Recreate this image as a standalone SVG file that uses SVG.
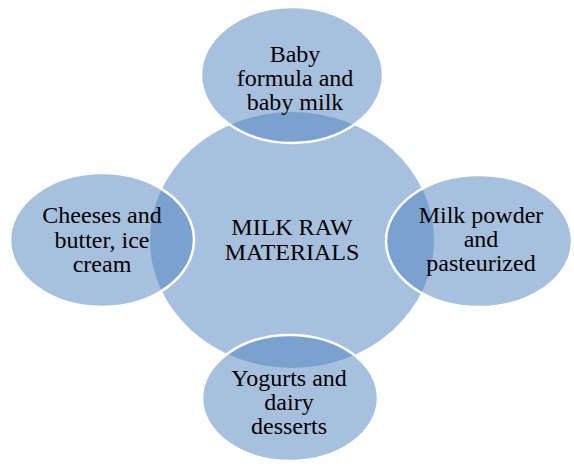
<svg xmlns="http://www.w3.org/2000/svg" width="574" height="466" viewBox="0 0 574 466">
<style>
.bg{fill:#ffffff}
.hub{fill:#4F81BD;fill-opacity:0.5;stroke:none}
.sat{fill:#4F81BD;fill-opacity:0.5;stroke:#ffffff;stroke-width:2.5}
text{font-family:"Liberation Serif","Times New Roman",serif;font-size:24px;fill:#000000;text-anchor:middle}
</style>
<rect class="bg" x="0" y="0" width="574" height="466"/>
<g id="center">
<ellipse class="hub" cx="292" cy="240" rx="142" ry="128"/>
<text x="292" y="235">MILK RAW</text>
<text x="292" y="260">MATERIALS</text>
</g>
<g id="top">
<ellipse class="sat" cx="292" cy="75" rx="91" ry="68"/>
<text x="295" y="62">Baby</text>
<text x="295" y="86">formula and</text>
<text x="295" y="110">baby milk</text>
</g>
<g id="left">
<ellipse class="sat" cx="102" cy="240" rx="92" ry="67"/>
<text x="102" y="223">Cheeses and</text>
<text x="102" y="248">butter, ice</text>
<text x="102" y="272">cream</text>
</g>
<g id="right">
<ellipse class="sat" cx="479" cy="241" rx="93" ry="66"/>
<text x="481" y="223">Milk powder</text>
<text x="481" y="247">and</text>
<text x="481" y="271">pasteurized</text>
</g>
<g id="bottom">
<ellipse class="sat" cx="290" cy="398" rx="88" ry="63"/>
<text x="289" y="386">Yogurts and</text>
<text x="289" y="410">dairy</text>
<text x="289" y="434">desserts</text>
</g>
<g id="connectors"></g>
</svg>
